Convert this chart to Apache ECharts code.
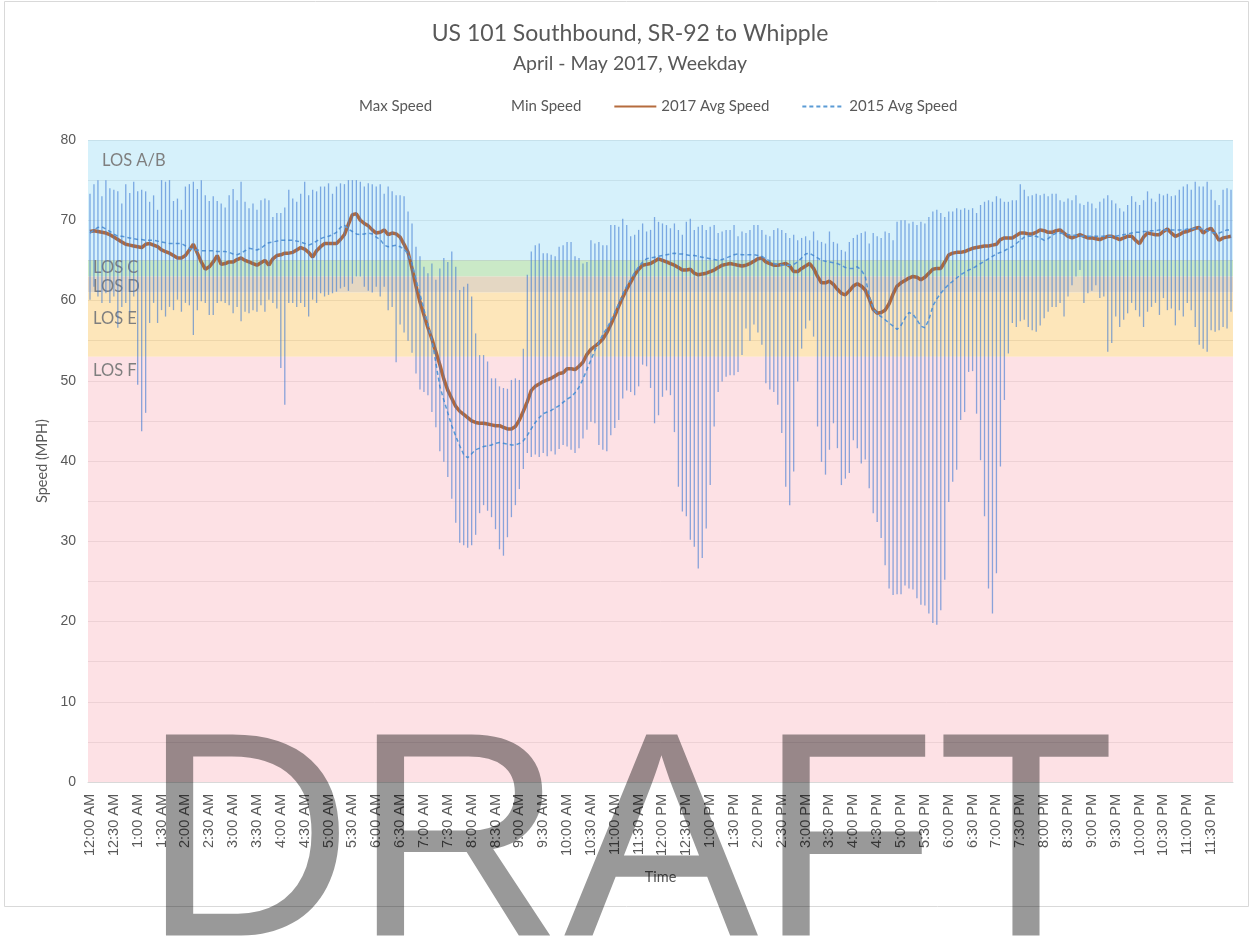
<!DOCTYPE html>
<html>
<head>
<meta charset="utf-8">
<script src="https://cdn.jsdelivr.net/npm/echarts@6/dist/echarts.min.js"></script>
<style>
html,body{margin:0;padding:0;background:#fff;}
#chart{width:1250px;height:944px;}
</style>
</head>
<body>
<div id="chart"></div>
<script>
// ---- Data (5-minute weekday intervals, 288 points) ----
const maxSpeed = [
73.3,74.5,75.0,73.0,75.0,74.0,73.8,73.6,72.1,74.5,73.4,74.8,73.6,73.8,73.6,72.3,73.1,71.3,75.0,74.8,75.0,72.4,72.7,71.3,
74.2,74.5,74.8,73.9,75.0,73.1,72.4,73.0,72.4,72.1,71.6,73.1,73.9,72.5,74.8,72.3,71.5,72.1,71.3,72.5,72.7,72.5,70.4,70.9,
70.9,71.6,73.8,72.7,72.3,73.3,74.8,73.1,73.8,73.6,74.2,74.2,74.6,73.3,74.2,74.6,74.5,75.0,75.0,75.0,74.8,74.2,74.6,74.5,
74.2,74.5,73.3,74.2,73.6,73.1,73.1,73.0,71.1,69.6,66.7,65.5,64.2,63.4,64.6,62.6,64.0,65.3,64.8,66.1,64.2,61.3,61.7,62.1,
60.5,55.9,53.2,53.2,52.4,50.3,50.3,49.3,49.1,49.0,50.1,50.3,50.1,54.0,63.2,66.1,66.9,67.1,65.9,65.9,65.7,65.5,66.7,66.9,
67.3,67.3,65.5,65.3,64.6,64.8,67.5,67.1,67.3,66.9,66.9,69.4,69.4,69.2,70.2,69.4,68.0,68.2,68.8,69.6,68.6,68.8,70.4,69.8,
69.6,69.4,69.0,69.6,68.8,68.2,69.8,70.2,68.8,69.2,69.4,68.8,69.2,69.4,68.4,68.6,68.8,68.8,69.4,68.0,68.6,68.4,68.8,69.4,
69.4,68.8,68.2,68.0,68.8,69.0,68.8,68.4,67.8,68.2,67.5,67.8,68.0,67.5,68.6,67.5,67.3,67.1,68.6,67.3,67.1,66.3,66.1,67.3,
67.8,68.2,68.4,68.6,67.1,68.4,68.0,67.8,68.6,68.4,67.5,69.8,70.0,70.0,69.6,69.8,69.4,69.8,69.6,70.4,71.1,71.3,70.9,70.4,
71.1,71.1,71.5,71.3,71.5,71.3,71.5,70.9,71.9,72.3,72.5,72.3,73.0,72.7,72.3,72.3,72.5,72.5,74.5,73.8,73.0,73.1,73.3,73.1,
73.3,73.0,73.3,73.3,72.5,72.3,72.7,72.5,73.1,72.1,71.9,72.3,72.1,71.5,72.3,72.7,73.1,72.5,72.1,71.5,71.1,71.9,73.0,72.3,
71.9,72.5,73.6,72.7,72.3,73.3,73.1,73.3,73.0,73.1,73.8,74.2,74.5,73.8,74.8,74.2,74.2,74.8,73.8,72.5,71.9,73.8,74.0,73.8
];
const minSpeed = [
60.1,61.7,60.5,59.7,60.9,59.7,60.5,56.6,59.2,59.7,58.6,60.5,49.5,43.7,46.0,57.2,59.7,57.2,58.8,58.0,59.2,58.8,60.1,58.6,
59.7,59.4,55.7,58.8,59.9,59.7,58.2,58.2,59.7,59.9,59.7,59.4,58.4,59.2,57.4,58.6,58.4,58.8,58.6,59.4,58.6,60.1,59.7,59.0,
51.6,47.0,59.7,59.7,59.2,59.7,59.2,58.0,60.1,59.7,60.9,60.5,60.7,60.9,61.1,61.5,61.7,61.2,62.1,63.0,63.0,61.7,61.2,61.0,
61.7,60.5,61.7,58.8,59.2,52.3,57.0,56.0,55.0,53.5,50.9,48.9,48.6,48.2,46.1,44.2,41.2,39.9,38.0,35.3,32.3,29.8,29.5,29.2,
29.5,30.8,33.5,34.5,33.8,33.0,31.5,29.0,28.2,30.5,33.0,34.5,36.5,39.0,41.0,40.5,40.8,40.5,41.0,40.6,41.2,40.8,41.5,42.0,
41.8,41.4,41.0,41.6,42.8,43.9,44.9,44.7,42.0,41.4,41.2,43.2,44.1,45.1,47.8,48.8,48.6,48.2,49.3,52.0,51.8,49.1,44.7,45.7,
48.0,48.8,48.2,43.6,36.8,33.7,33.1,30.2,29.3,26.6,27.9,31.6,37.0,44.3,48.6,49.9,50.5,50.7,50.7,51.1,53.2,56.5,55.0,57.0,
56.0,54.5,49.7,48.9,48.6,47.0,43.5,36.8,34.5,38.7,49.9,54.0,56.5,57.5,55.5,44.3,39.9,38.3,41.4,44.7,41.6,37.0,37.8,38.5,
42.6,41.6,39.7,40.2,36.6,33.5,32.4,30.4,27.0,24.1,23.3,23.4,23.4,24.5,24.1,24.0,22.9,22.1,22.0,21.0,19.8,19.6,21.4,25.2,
34.9,37.4,38.9,45.1,46.1,51.1,51.2,45.9,40.1,33.1,24.1,21.0,26.0,39.3,47.6,53.4,57.2,56.7,57.4,57.6,56.7,56.3,56.1,56.9,
57.8,58.6,59.2,59.2,59.7,58.0,60.5,61.9,63.0,63.8,59.7,60.9,61.2,61.9,60.3,60.5,53.6,54.7,58.0,56.7,57.6,58.4,59.7,58.8,
58.0,56.7,58.6,59.2,59.7,58.2,60.3,58.8,59.0,56.9,58.8,58.0,59.7,58.8,56.7,54.5,54.0,53.6,56.3,56.1,56.3,56.7,56.5,58.6
];
const avg2017 = [
68.6,68.7,68.6,68.5,68.4,68.2,67.9,67.6,67.3,67.0,66.9,66.8,66.7,66.6,67.0,67.1,66.9,66.7,66.3,66.1,65.9,65.6,65.3,65.3,
65.6,66.3,67.0,65.9,64.8,63.9,64.2,64.8,65.6,64.5,64.6,64.8,64.8,65.1,65.3,65.0,64.8,64.6,64.4,64.7,65.0,64.4,65.2,65.6,
65.7,65.9,65.9,66.0,66.3,66.6,66.4,66.0,65.4,66.2,66.7,67.1,67.1,67.1,67.1,67.6,68.2,69.5,70.7,70.8,70.0,69.6,69.3,68.8,
68.4,68.5,68.8,68.2,68.4,68.3,67.9,67.0,66.0,64.0,61.8,59.8,58.2,56.6,55.2,53.6,52.0,50.2,48.8,47.8,46.8,46.2,45.8,45.4,
45.0,44.8,44.7,44.7,44.6,44.5,44.4,44.4,44.2,44.0,44.0,44.3,45.1,46.2,47.4,48.8,49.3,49.6,49.9,50.1,50.3,50.6,50.9,51.0,
51.5,51.5,51.4,51.8,52.3,53.3,53.9,54.3,54.7,55.2,56.0,57.0,58.1,59.3,60.4,61.4,62.3,63.2,63.9,64.4,64.5,64.6,64.9,65.2,
65.0,64.8,64.6,64.4,64.1,63.8,63.8,63.9,63.4,63.2,63.3,63.4,63.6,63.8,64.1,64.4,64.5,64.6,64.5,64.4,64.3,64.4,64.6,64.9,
65.2,65.3,64.8,64.6,64.4,64.4,64.5,64.6,64.3,63.6,63.6,64.0,64.3,64.6,64.0,63.0,62.2,62.2,62.4,62.0,61.4,60.9,60.7,61.2,
61.8,62.1,61.8,61.3,60.2,58.9,58.4,58.5,58.8,59.6,60.8,61.8,62.2,62.5,62.8,63.0,62.9,62.6,62.9,63.4,63.9,64.0,64.0,64.8,
65.7,65.9,66.0,66.0,66.1,66.3,66.5,66.6,66.7,66.8,66.8,66.9,67.0,67.6,67.8,67.8,67.8,68.1,68.4,68.4,68.3,68.3,68.5,68.8,
68.7,68.5,68.5,68.7,68.8,68.4,68.0,67.8,68.0,68.2,68.0,67.8,67.8,67.7,67.6,67.8,68.0,68.0,67.8,67.6,67.8,68.0,68.0,67.5,
67.1,67.9,68.4,68.3,68.2,68.2,68.6,68.9,68.4,68.0,68.2,68.5,68.6,68.8,69.0,69.1,68.4,68.8,69.0,68.3,67.5,67.8,67.9,68.0
];
const avg2015 = [
68.4,68.8,69.1,69.2,68.9,68.6,68.3,68.0,68.0,67.9,67.8,67.7,67.6,67.6,67.5,67.5,67.5,67.4,67.3,67.2,67.1,67.1,67.1,67.1,
66.8,66.5,66.3,66.3,66.2,66.2,66.2,66.2,66.1,66.1,66.1,66.0,65.8,65.7,65.9,66.2,66.5,66.4,66.3,66.5,66.9,67.2,67.3,67.4,
67.5,67.5,67.5,67.5,67.4,67.3,67.1,66.9,67.1,67.4,67.7,67.9,68.0,68.2,68.5,69.1,69.4,68.9,68.6,68.3,68.2,68.3,68.4,68.3,
67.9,67.6,66.9,66.7,66.8,66.9,66.7,66.4,65.8,64.6,62.6,60.8,58.9,57.0,55.1,52.2,49.3,47.6,46.0,44.4,43.1,41.9,40.8,40.4,
40.9,41.4,41.6,41.8,41.9,42.0,42.2,42.3,42.2,42.1,42.0,42.0,42.2,42.5,43.2,44.0,44.8,45.4,45.9,46.1,46.3,46.6,46.9,47.3,
47.7,48.0,48.5,49.2,50.2,51.4,52.6,53.8,54.8,55.8,56.5,57.5,58.5,59.6,60.8,61.8,62.6,63.5,64.2,64.8,65.2,65.3,65.4,65.5,
65.6,65.7,65.8,65.9,65.8,65.8,65.7,65.6,65.6,65.5,65.4,65.3,65.2,65.1,65.0,65.1,65.3,65.5,65.7,65.8,65.7,65.7,65.7,65.7,
65.6,65.5,65.2,64.9,64.6,64.5,64.4,64.4,64.4,64.5,64.8,65.3,65.8,65.9,65.6,65.3,65.0,64.9,64.8,64.7,64.6,64.4,64.1,64.0,
64.0,64.2,63.8,63.0,60.5,59.0,58.3,58.0,57.6,57.2,56.8,56.4,56.9,57.8,58.5,58.3,57.6,56.8,56.6,57.6,59.3,60.2,60.9,61.5,
62.0,62.4,62.8,63.2,63.5,63.8,64.0,64.3,64.6,64.9,65.2,65.5,65.8,66.0,66.2,66.5,66.7,67.1,67.5,67.9,68.0,68.0,68.0,67.8,
67.5,67.7,68.1,68.4,68.4,68.3,68.2,68.2,68.1,68.0,68.0,68.0,68.0,68.0,68.0,68.0,68.0,68.0,68.0,68.1,68.2,68.3,68.4,68.5,
68.5,68.6,68.6,68.7,68.7,68.8,68.8,68.8,68.8,68.8,68.8,68.8,68.9,68.9,69.0,69.0,68.9,68.7,68.5,68.4,68.4,68.6,68.8,68.8
];
// LOS bands (mph)
const losNames  = ['LOS A/B', 'LOS C', 'LOS D', 'LOS E', 'LOS F'];
const losLower  = [65, 63, 61, 53, 0];
const losUpper  = [80, 65, 63, 61, 53];
const losColors = ['rgba(198,235,249,0.72)','rgba(182,225,177,0.72)','rgba(217,200,172,0.72)','rgba(252,221,160,0.72)','rgba(252,214,219,0.72)'];
const losLabelPad = [[7,0,0,9],[0,0,0,0],[0,0,0,0],[13,0,0,0],[0,0,0,0]];
const losLabelOff = [[0,0],[0,-6],[0,-3],[0,0],[0,0]];
const yTicks = [0, 10, 20, 30, 40, 50, 60, 70, 80];

// Category labels (every 5 minutes)
const timeCats = [];
for (let m = 0; m < 24 * 60; m += 5) {
  const h = Math.floor(m / 60), mm = m % 60;
  const h12 = h % 12 === 0 ? 12 : h % 12;
  timeCats.push(h12 + ':' + (mm < 10 ? '0' : '') + mm + (h < 12 ? ' AM' : ' PM'));
}

const chart = echarts.init(document.getElementById('chart'));
const grayText = '#595959';
const uiFont = 'Lato';

const bandData = losNames.map((n, k) => [
  { name: n, yAxis: losLower[k], itemStyle: { color: losColors[k] },
    label: { show: true, position: 'insideTopLeft', distance: 5, padding: losLabelPad[k], offset: losLabelOff[k],
             color: '#7f7f7f', fontFamily: uiFont, fontSize: 16.5 } },
  { yAxis: losUpper[k] }
]);

const hiddenIcon = { color: 'rgba(0,0,0,0)', borderColor: 'rgba(0,0,0,0)', borderWidth: 0, opacity: 0 };

const option = {
  animation: false,
  backgroundColor: '#fff',
  title: [
    { text: 'US 101 Southbound, SR-92 to Whipple', left: 625, top: 17, textAlign: 'center',
      textStyle: { fontFamily: uiFont, fontSize: 23, fontWeight: 'normal', color: grayText } },
    { text: 'April - May 2017, Weekday', left: 625, top: 49, textAlign: 'center',
      textStyle: { fontFamily: uiFont, fontSize: 19.5, fontWeight: 'normal', color: grayText } }
  ],
  legend: {
    left: 307, top: 94, itemWidth: 42, itemHeight: 14, itemGap: 32,
    textStyle: { fontFamily: uiFont, fontSize: 15, color: grayText },
    data: [
      { name: 'Max Speed', itemStyle: hiddenIcon },
      { name: 'Min Speed', itemStyle: hiddenIcon },
      { name: '2017 Avg Speed', itemStyle: hiddenIcon },
      { name: '2015 Avg Speed', itemStyle: hiddenIcon }
    ],
    selectedMode: false
  },
  grid: { left: 88, right: 17, top: 140, bottom: 162 },
  xAxis: {
    type: 'category', data: timeCats, boundaryGap: true,
    name: 'Time', nameLocation: 'middle', nameGap: 88,
    nameTextStyle: { fontFamily: uiFont, fontSize: 14.5, color: grayText },
    axisLine: { show: true, lineStyle: { color: '#d9d9d9' } },
    axisTick: { show: false },
    axisLabel: { interval: 5, rotate: 90, margin: 12, fontFamily: 'Liberation Sans', fontSize: 14.5, color: grayText },
    splitLine: { show: false }
  },
  yAxis: {
    type: 'value', min: yTicks[0], max: yTicks[yTicks.length - 1], interval: 10,
    name: 'Speed (MPH)', nameLocation: 'middle', nameGap: 38,
    nameTextStyle: { fontFamily: uiFont, fontSize: 14.5, color: grayText },
    axisLine: { show: false }, axisTick: { show: false },
    axisLabel: { margin: 12, fontFamily: 'Liberation Sans', fontSize: 14, color: grayText },
    splitLine: { show: true, lineStyle: { color: '#c4c4c4', width: 1 } },
    minorTick: { show: false, splitNumber: 2 },
    minorSplitLine: { show: true, lineStyle: { color: '#c4c4c4', width: 1 } }
  },
  series: [
    { name: 'LOS', type: 'line', data: [], silent: true, z: 1,
      markArea: { silent: true, data: bandData } },
    { name: 'Max Speed', type: 'line', data: maxSpeed, symbol: 'none', silent: true, z: 1,
      itemStyle: { color: 'rgba(0,0,0,0)' }, lineStyle: { color: 'rgba(0,0,0,0)', width: 0 } },
    { name: 'Min Speed', type: 'line', data: minSpeed, symbol: 'none', silent: true, z: 1,
      itemStyle: { color: 'rgba(0,0,0,0)' }, lineStyle: { color: 'rgba(0,0,0,0)', width: 0 } },
    { name: '2017 Avg Speed', type: 'line', data: avg2017, symbol: 'none', z: 3,
      itemStyle: { color: '#b0591f' }, lineStyle: { color: 'rgba(168,82,28,0.85)', width: 3.5 } },
    { name: '2015 Avg Speed', type: 'line', data: avg2015, symbol: 'none', z: 3,
      itemStyle: { color: '#5b9bd5' }, lineStyle: { color: '#5b9bd5', width: 1.5, type: [4, 3] } },
    { name: 'High-Low', type: 'custom', silent: true, z: 4,
      data: maxSpeed.map((v, i) => [i, minSpeed[i], v]),
      encode: { x: 0, y: [1, 2] },
      renderItem: function (params, api) {
        const i = api.value(0);
        const lo = api.coord([i, api.value(1)]);
        const hi = api.coord([i, api.value(2)]);
        return { type: 'line', shape: { x1: lo[0], y1: lo[1], x2: hi[0], y2: hi[1] },
                 style: { stroke: 'rgba(60,120,210,0.6)', lineWidth: 1.3 } };
      } }
  ],
  graphic: [
    { type: 'rect', z: 0, silent: true, shape: { x: 4.5, y: 1.5, width: 1244, height: 905 },
      style: { fill: null, stroke: '#d9d9d9', lineWidth: 1 } },
    { type: 'text', z: 100, silent: true, left: 142, top: 709,
      style: { text: 'DRAFT', font: 'normal 292px "Liberation Sans", Arial, sans-serif',
               fill: 'rgba(0,0,0,0.4)' } }
  ]
};
chart.setOption(option);
</script>
</body>
</html>
